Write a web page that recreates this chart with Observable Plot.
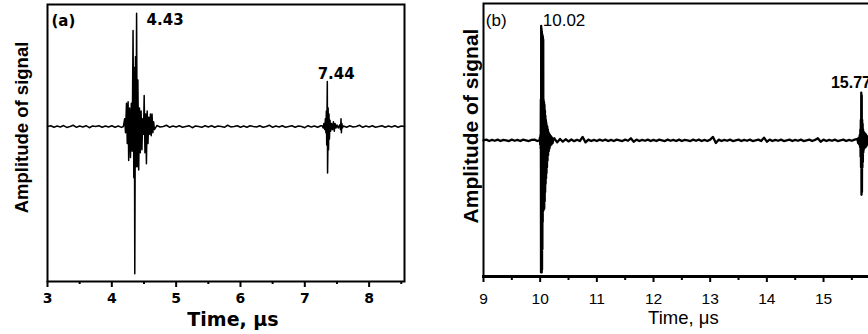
<!DOCTYPE html>
<html>
<head>
<meta charset="utf-8">
<script src="https://cdn.jsdelivr.net/npm/d3@7"></script>
<script src="https://cdn.jsdelivr.net/npm/@observablehq/plot@0.6"></script>
<style>
  html, body { margin: 0; padding: 0; background: white; overflow: hidden; }
  #c { position: relative; width: 868px; height: 334px; overflow: hidden; background: white; }
  #c svg { position: absolute; top: 0; left: 0; max-width: none !important; }
</style>
</head>
<body>
<div id="c"></div>
<script>
// ---------- Panel (a) data ----------
const aStart = 3.0, aStep = 0.05;
const noiseA = [0,0.5,-0.5,0.3,-0.3,0.6,-0.6,0,0.8,-0.5,
  0.3,-0.3,0.5,-0.8,0.3,0,0.5,-0.5,0.3,-0.3,
  0.5,-0.5,0.3,-0.6,0.5,0,-0.5,0,0.5,-0.5,
  0,0.5,0,-0.5,0.6,-0.3,0,0.8,-0.5,0.3,
  -0.3,0.5,-0.5,0,0.5,-0.8,0.3,0,-0.5,0.5,
  -0.3,0.5,-0.5,0.3,0,-0.5,0.8,-0.3,0,0.5,
  -0.5,0.3,-0.5,0.5,0,-0.3,0.5,-0.5,0,0.8,
  -0.5,0.3,-0.3,0.5,-0.5,0,0.5,-0.5,0.3,0,
  -0.8,0.5,-0.3,0.3,-0.5,0.5,0,-0.5,0.3,0.5,
  -0.5,0,0.3,-0.5,0.5,-0.3,0,0.8,-0.5,0.3,
  -0.3,0.5,-0.5,0,0.5,-0.5,0.3,-0.3,0.5,-0.5,
  0.3,0];
const burstA1 = [[4.18,0],[4.2,5],[4.213,-4],[4.228,15],[4.24,-11],[4.253,16],[4.262,-22],[4.277,12],
  [4.29,-20],[4.303,15],[4.316,-16],[4.33,62],[4.342,-33],[4.35,38],[4.357,-95],[4.368,45],
  [4.376,-26],[4.385,73],[4.395,-26],[4.405,30],[4.418,-28],[4.43,12],[4.442,-17],[4.455,10],
  [4.468,-15],[4.48,5],[4.492,-5],[4.503,20],[4.515,-17],[4.528,8],[4.538,-24],[4.55,10],
  [4.562,-11],[4.575,6],[4.588,-5],[4.6,8],[4.612,-6],[4.625,8],[4.638,-4],[4.65,3],[4.662,-2]];
const burstA2 = [[7.27,0.5],[7.285,-1],[7.297,2],[7.31,-2],[7.32,5],[7.328,-4],[7.335,10],[7.341,-12],
  [7.346,12],[7.35,29],[7.354,-30],[7.358,-17],[7.363,12],[7.369,-15],[7.376,8],[7.383,-8],
  [7.392,4],[7.402,-3],[7.415,2],[7.43,-2],[7.445,3],[7.458,-3],[7.47,2],[7.485,-1],
  [7.5,1],[7.52,-1],[7.54,1],[7.555,-2],[7.563,5],[7.569,-4],[7.576,2],[7.585,-1]];
const ticksA = [3,4,5,6,7,8];
const minorA = [3.5,4.5,5.5,6.5,7.5,8.5];
const labelsA = [{t:3.062,a:67.7,text:"(a)"},{t:4.54,a:68.4,text:"4.43"},{t:7.2,a:33.5,text:"7.44"}];

// ---------- Panel (b) data ----------
const bStart = 9.0, bStep = 0.05;
const noiseB = [0,0.5,-0.5,0.3,-0.3,0.5,-0.5,0.3,0,-0.5,
  0.5,-0.3,0.3,-0.5,0.5,0,-0.5,0.3,0.5,-0.5,
  0,0,0,0,0,1.5,-1.5,1,-1,0.8,
  -0.8,0.6,-0.6,0.4,-0.5,2.5,-1.5,0.5,-0.5,0.3,
  -0.5,0.5,-0.3,0.5,-0.5,0.3,-0.5,0.5,0,-0.5,
  0.5,-0.3,1.5,-1,0.5,-0.5,0.3,-0.3,0.5,-0.5,
  0.3,-0.5,0.5,0,-0.5,0.5,-0.3,0.3,-0.5,0.5,
  -0.5,0.3,0,-0.5,0.5,-0.3,0.5,-0.5,0.3,-0.5,
  0.5,2.5,-2,0.5,-0.5,0.3,-0.3,0.5,-0.5,0,
  0.5,-0.5,0.3,-0.3,0.5,-0.5,0,0.5,-0.5,2,
  -1,0.5,-0.5,0.3,-0.3,0.5,-0.5,0,0.5,-0.5,
  0.3,-0.3,0.5,-0.5,0,0.5,-0.5,0.3,1.5,-1,
  0.5,-0.5,0.3,-0.3,0.5,-0.5,0,0.5,-0.5,0.3,
  -0.3,0.5,-0.5,0,0,0,0,0,1.5,-1.5,
  0.5];
const burstB1 = [[9.99,0],[9.995,2],[10.0,-3],[10.005,4],[10.009,-6],[10.012,30],[10.015,-97],[10.018,84],
  [10.021,-97],[10.024,82],[10.027,-97],[10.03,80],[10.033,-95],[10.036,78],[10.039,-80],[10.042,77],
  [10.045,-60],[10.048,76],[10.051,-52],[10.054,74],[10.057,-51],[10.06,30],[10.064,-51],[10.068,28],
  [10.072,-50],[10.076,26],[10.08,-45],[10.084,22],[10.088,-38],[10.092,18],[10.096,-32],[10.1,15],
  [10.104,-28],[10.108,13],[10.112,-24],[10.116,11],[10.12,-20],[10.125,10],[10.13,-15],[10.135,8],
  [10.14,-11],[10.146,6],[10.152,-8],[10.158,5],[10.165,-6],[10.172,4],[10.18,-4],[10.19,3],
  [10.2,-3],[10.21,2],[10.22,-2],[10.235,1]];
const burstB2 = [[15.6,1],[15.61,-2],[15.62,2],[15.63,-3],[15.64,4],[15.645,-5],[15.65,8],[15.654,-12],
  [15.658,15],[15.662,-20],[15.666,35],[15.67,-40],[15.674,33],[15.678,-38],[15.682,15],[15.686,-20],
  [15.69,12],[15.694,-16],[15.698,8],[15.702,-9],[15.706,6],[15.71,-7],[15.715,6],[15.72,-6],
  [15.726,5],[15.732,-5],[15.738,5],[15.745,-5],[15.752,4],[15.76,-4],[15.768,3],[15.776,-3],
  [15.785,2],[15.795,-2]];
const ticksB = [9,10,11,12,13,14,15,16];
const minorB = [9.5,10.5,11.5,12.5,13.5,14.5,15.5];
const labelsBnormal = [{t:9.04,a:88,text:"(b)"},{t:10.046,a:88,text:"10.02"}];
const labelsBbold = [{t:15.13,a:42.5,text:"15.77"}];
const yTitle = "Amplitude of signal";

// ---------- build series ----------
function buildSeries(start, step, noise, bursts) {
  const pts = [];
  noise.forEach((v, i) => {
    const t = start + i * step;
    const inside = bursts.some(b => t >= b[0][0] - 1e-9 && t <= b[b.length - 1][0] + 1e-9);
    if (!inside) pts.push({t, a: v});
  });
  bursts.forEach(b => b.forEach(([t, a]) => pts.push({t, a})));
  pts.sort((p, q) => p.t - q.t);
  return pts;
}
const dataA = buildSeries(aStart, aStep, noiseA, [burstA1, burstA2]);
const dataB = buildSeries(bStart, bStep, noiseB, [burstB1, burstB2]);

const plotA = Plot.plot({
  width: 440, height: 334,
  marginLeft: 47, marginRight: 36, marginTop: 4, marginBottom: 53,
  x: {domain: [3, 8.55]},
  y: {domain: [-100, 78.7], axis: null},
  style: {fontFamily: "'DejaVu Sans', sans-serif", background: "white", color: "black", overflow: "visible"},
  marks: [
    Plot.line(dataA, {x: "t", y: "a", stroke: "black", strokeWidth: 1.5}),
    Plot.frame({stroke: "black", strokeWidth: 2}),
    Plot.axisX({ticks: ticksA, tickSize: 6, tickPadding: 6, tickFormat: d => String(d), fontSize: 14, fontWeight: "bold", strokeWidth: 2, label: null}),
    Plot.axisX({ticks: minorA, tickSize: 3, tickFormat: () => "", strokeWidth: 2, label: null}),
    Plot.text(labelsA, {x: "t", y: "a", text: "text", textAnchor: "start", fontWeight: "bold", fontSize: 15}),
    Plot.text(["Time, μs"], {frameAnchor: "bottom", lineAnchor: "middle", dx: 7, dy: 38, fontSize: 19, fontWeight: "bold"}),
    Plot.text([yTitle], {frameAnchor: "left", textAnchor: "middle", lineAnchor: "middle", rotate: -90, dx: -25.5, dy: -15.5, fontSize: 18.5, fontWeight: "bold", fontFamily: "'Liberation Sans', Arial, sans-serif"})
  ]
});

// Panel (b) shares the page origin; its frame starts at x = 483 and runs past the right edge.
const plotB = Plot.plot({
  width: 910, height: 334,
  marginLeft: 483, marginRight: 30.3, marginTop: 3, marginBottom: 58,
  x: {domain: [9, 16]},
  y: {domain: [-100, 100.5], axis: null},
  style: {fontFamily: "'Liberation Sans', Arial, sans-serif", background: "transparent", color: "black", overflow: "visible"},
  marks: [
    Plot.line(dataB, {x: "t", y: "a", stroke: "black", strokeWidth: 2.3}),
    Plot.frame({stroke: "black", strokeWidth: 2}),
    Plot.frame({anchor: "bottom", stroke: "black", strokeWidth: 3}),
    Plot.axisX({ticks: ticksB, tickSize: 6, tickPadding: 10, tickFormat: d => String(d), fontSize: 15.5, strokeWidth: 2, label: null}),
    Plot.axisX({ticks: minorB, tickSize: 4, tickFormat: () => "", strokeWidth: 2, label: null}),
    Plot.text(labelsBnormal, {x: "t", y: "a", text: "text", textAnchor: "start", fontSize: 17}),
    Plot.text(labelsBbold, {x: "t", y: "a", text: "text", textAnchor: "start", fontWeight: "bold", fontSize: 16}),
    Plot.text(["Time, μs"], {frameAnchor: "bottom", lineAnchor: "middle", dx: 1.5, dy: 42, fontSize: 18.5}),
    Plot.text([yTitle], {frameAnchor: "left", textAnchor: "middle", lineAnchor: "middle", rotate: -90, dx: -12.5, dy: -14, fontSize: 21, fontWeight: "bold", fontFamily: "'Liberation Sans', Arial, sans-serif"})
  ]
});

const c = document.getElementById("c");
c.appendChild(plotA);
c.appendChild(plotB);
</script>
</body>
</html>
